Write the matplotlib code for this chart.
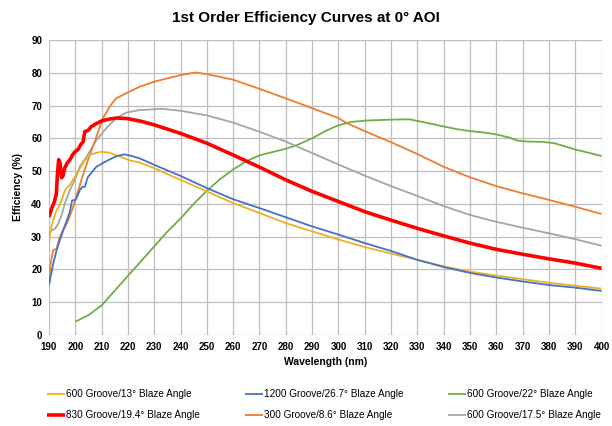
import matplotlib.pyplot as plt

plt.rcParams['font.family'] = ['Liberation Sans', 'DejaVu Sans']

# 600 Groove / 13 deg
wl_600_13 = [190, 190.6, 191.6, 192.9, 194.1, 195.4, 196.4, 197.9, 199.8, 201.7, 203.6, 206, 209.8, 213,
             216.7, 220.5, 224.4, 230, 240, 250, 260, 270, 280, 290, 300, 310, 320, 330, 340, 350,
             360, 370, 380, 390, 400]
eff_600_13 = [27.8, 31.9, 35, 38, 39.6, 42.6, 44.6, 45.7, 48.2, 50.8, 53.3, 55.1, 55.9, 55.6,
              54.5, 53.3, 52.6, 50.9, 47.3, 43.8, 40.2, 37.2, 34.1, 31.6, 29.1, 26.8, 24.8, 22.9, 20.9, 19.3,
              18.1, 17, 15.9, 15, 14.1]

# 1200 Groove / 26.7 deg
wl_1200_267 = [190, 190.6, 191.6, 192.9, 194.1, 195.4, 196.6, 197.9, 198.8, 199.8, 200.4, 201.7, 202.7,
               203.6, 204.8, 208, 211.7, 215.5, 218.6, 220.5, 224.4, 230, 240, 250, 260, 270, 280, 290,
               300, 310, 320, 330, 340, 350, 360, 370, 380, 390, 400]
eff_1200_267 = [15.1, 17.6, 21.7, 25.8, 28.8, 31.9, 34.5, 37.5, 41.1, 41.1, 41.6, 44.1, 45.2,
                45.2, 48.2, 51.3, 53, 54.5, 55.1, 54.8, 53.9, 51.9, 48.5, 44.8, 41.4, 38.7, 35.9, 33.1,
                30.6, 28, 25.6, 22.9, 20.7, 18.9, 17.5, 16.3, 15.2, 14.4, 13.4]

# 600 Groove / 22 deg
wl_600_22 = [200, 205, 210, 215, 220, 225, 230, 235, 240, 245, 250, 255, 260, 265, 270, 275, 280, 285,
             290, 295, 300, 305, 310, 320, 327, 330, 335, 340, 345, 350, 355, 360, 365, 368, 372, 378,
             382, 390, 400]
eff_600_22 = [4, 6, 9, 13.5, 18, 22.5, 27, 31.5, 35.5, 40, 44, 47.5, 50.5, 53, 54.8, 55.8, 56.8, 58.2,
              60, 62.2, 64, 65, 65.4, 65.7, 65.8, 65.3, 64.5, 63.6, 62.8, 62.2, 61.8, 61.2, 60.2, 59.3, 59,
              58.9, 58.5, 56.6, 54.6]

# 830 Groove / 19.4 deg
wl_830_194 = [190, 191, 192, 192.8, 193.3, 193.7, 194.2, 194.8, 195.3, 196, 197, 198, 199, 200, 201, 202,
              203, 203.6, 205, 206, 208, 210, 213, 216, 220, 225, 230, 240, 250, 260, 270, 280, 290,
              300, 310, 320, 330, 340, 350, 360, 370, 380, 390, 400]
eff_830_194 = [36, 38.5, 40.5, 43, 50, 53.5, 52.5, 48, 48.5, 51, 52.5, 53.5, 55, 56, 56.5, 58,
               59, 62, 62.5, 63.5, 64.5, 65.3, 65.9, 66.2, 66, 65.2, 64.1, 61.5, 58.5, 54.9, 51.2, 47.3, 43.8,
               40.7, 37.6, 35, 32.5, 30.2, 28, 26.1, 24.6, 23.2, 21.9, 20.3]

# 300 Groove / 8.6 deg
wl_300_86 = [190, 190.6, 191.6, 192.9, 194.1, 195.4, 197.3, 199.2, 200.4, 202.3, 204.8, 208, 210.5, 213,
             215.5, 219.2, 224.3, 230, 240, 245.6, 250, 260, 270, 280, 290, 300, 303, 310, 320, 330,
             340, 350, 360, 370, 380, 390, 400]
eff_300_86 = [15.5, 21.7, 25.8, 26.3, 29.9, 31.9, 35, 39, 42.1, 47.2, 53.3, 60.4, 66.1, 69.6,
              72.2, 73.7, 75.7, 77.3, 79.3, 80.1, 79.6, 77.9, 75.1, 72.2, 69.2, 66.2, 64.7, 62.2, 58.8, 55.2,
              51.3, 48.1, 45.4, 43.2, 41.2, 39.1, 36.9]

# 600 Groove / 17.5 deg
wl_600_175 = [190, 191, 192.3, 193.5, 194.8, 196, 197.9, 199.8, 201.7, 204.2, 208, 211.7, 215.5, 219.2,
              224.3, 233, 240, 250, 260, 270, 280, 290, 300, 310, 320, 330, 340, 350, 360, 370, 380,
              390, 400]
eff_600_175 = [30.5, 31.9, 32.4, 33.9, 36.5, 40, 44.1, 47.2, 51.3, 54.3, 59.4, 63, 66.1, 67.8,
               68.6, 69, 68.4, 67, 64.8, 62, 59, 55.5, 52, 48.6, 45.4, 42.4, 39.3, 36.6, 34.5, 32.7, 31,
               29.2, 27.2]

series = [
    (wl_600_13, eff_600_13, '#EDB120', 1.3, '600 Groove/13° Blaze Angle'),
    (wl_830_194, eff_830_194, '#FF0000', 2.6, '830 Groove/19.4° Blaze Angle'),
    (wl_1200_267, eff_1200_267, '#4472C4', 1.3, '1200 Groove/26.7° Blaze Angle'),
    (wl_300_86, eff_300_86, '#ED7D31', 1.3, '300 Groove/8.6° Blaze Angle'),
    (wl_600_22, eff_600_22, '#70AD47', 1.3, '600 Groove/22° Blaze Angle'),
    (wl_600_175, eff_600_175, '#A5A5A5', 1.3, '600 Groove/17.5° Blaze Angle'),
]

fig = plt.figure(figsize=(6.12, 4.26), dpi=100)
ax = fig.add_axes([0.080, 0.214, 0.903, 0.692])

# draw in a stacking order close to the original (red on top)
order = [4, 5, 3, 0, 2, 1]
handles = [None] * len(series)
for i in order:
    x, y, c, lw, lab = series[i]
    handles[i], = ax.plot(x, y, color=c, lw=lw, label=lab, solid_capstyle='butt')

ax.set_xlim(190, 400)
ax.set_ylim(0, 90)
ax.set_xticks(range(190, 401, 10))
ax.set_yticks(range(0, 91, 10))
ax.grid(True, color='#BFBFBF', lw=0.9)
ax.set_axisbelow(True)
for s in ax.spines.values():
    s.set_visible(False)
ax.tick_params(length=0, labelsize=7, pad=5)
for t in ax.get_xticklabels() + ax.get_yticklabels():
    t.set_fontweight('bold')

ax.set_xlabel('Wavelength (nm)', fontsize=7.5, fontweight='bold', labelpad=4)
ax.set_ylabel('Efficiency (%)', fontsize=7.5, fontweight='bold', labelpad=6)
fig.suptitle('1st Order Efficiency Curves at 0° AOI', fontsize=11, fontweight='bold', y=0.975)

fig.legend(handles=handles, labels=[s[4] for s in series], ncol=3, loc='lower left',
           bbox_to_anchor=(0.077, 0.014), borderaxespad=0, borderpad=0,
           frameon=False, fontsize=7.2, handlelength=1.8,
           handletextpad=0.1, columnspacing=4.5, labelspacing=1.1)

fig.savefig('out.png', dpi=100)
